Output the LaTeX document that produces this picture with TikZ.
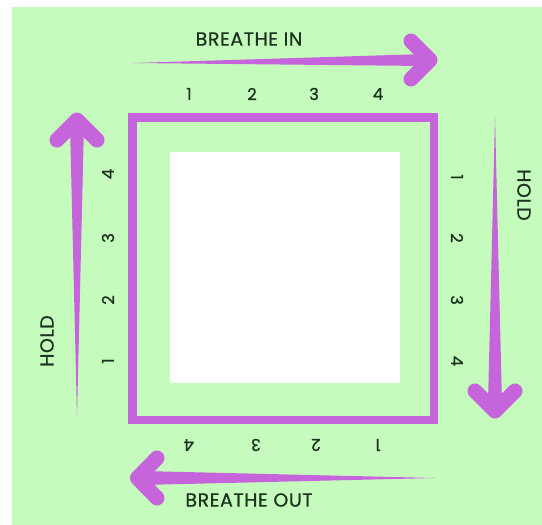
\documentclass[tikz,border=0pt]{standalone}
\usepackage{fontspec}
\setmainfont{Poppins}
\newfontfamily\lblfont{Poppins}[FakeBold=0.8,LetterSpace=3]
\newfontfamily\numfont{Poppins}[FakeBold=0.8]
\definecolor{bggreen}{RGB}{198,251,190}
\definecolor{arrowpurple}{RGB}{198,100,220}
\definecolor{txtdark}{RGB}{28,52,30}
\tikzset{
  lbl/.style={text=txtdark, font=\lblfont\fontsize{19}{22}\selectfont, inner sep=0pt},
  num/.style={text=txtdark, font=\numfont\fontsize{16.5}{19}\selectfont, inner sep=0pt},
  chevron/.style={draw=arrowpurple, line width=15pt, line cap=round, line join=round},
  shaft/.style={fill=arrowpurple},
}
\begin{document}
\begin{tikzpicture}[x=1pt,y=-1pt]
\useasboundingbox (0,0) rectangle (542,525);
\fill[white] (0,0) rectangle (542,525);
\fill[bggreen] (12,7) rectangle (542,525);
% square frame and white panel
\draw[arrowpurple, line width=8.5pt] (132.5,117.5) rectangle (434,420);
\fill[white] (170,152) rectangle (400,383);
% top arrow (breathe in)
\fill[shaft] (133,63) -- (426,54) -- (426,66) -- cycle;
\draw[chevron] (411,41) -- (430,60) -- (411,79);
% right arrow (hold)
\fill[shaft] (495,117) -- (488,403) -- (502,403) -- cycle;
\draw[chevron] (475,391) -- (495,411) -- (515,391);
% bottom arrow (breathe out)
\fill[shaft] (435,478) -- (142,471) -- (142,485) -- cycle;
\draw[chevron] (157,458) -- (137.5,478) -- (157,498);
% left arrow (hold)
\fill[shaft] (77,417) -- (70,125) -- (84,125) -- cycle;
\draw[chevron] (57,140) -- (77,120) -- (97,140);
% labels
\node[lbl] (bin) at (249,39) {BREATHE IN};
\node[lbl] (bout) at (249,500) {BREATHE OUT};
\node[lbl, rotate=90] (holdl) at (47,341) {HOLD};
\node[lbl, rotate=-90] (holdr) at (524,195) {HOLD};
% top numbers
\node[num] (t1) at (189,94) {1};
\node[num] (t2) at (252,94) {2};
\node[num] (t3) at (314,94) {3};
\node[num] (t4) at (378,94) {4};
% right numbers
\node[num, rotate=-90] (r1) at (457,177) {1};
\node[num, rotate=-90] (r2) at (457,238) {2};
\node[num, rotate=-90] (r3) at (457,300) {3};
\node[num, rotate=-90] (r4) at (457,361) {4};
% bottom numbers
\node[num, rotate=180] (b1) at (378,445) {1};
\node[num, rotate=180] (b2) at (316,445) {2};
\node[num, rotate=180] (b3) at (256,445) {3};
\node[num, rotate=180] (b4) at (189,445) {4};
% left numbers
\node[num, rotate=90] (l1) at (108,361) {1};
\node[num, rotate=90] (l2) at (108,300) {2};
\node[num, rotate=90] (l3) at (108,238) {3};
\node[num, rotate=90] (l4) at (108,174) {4};
\end{tikzpicture}
\end{document}
